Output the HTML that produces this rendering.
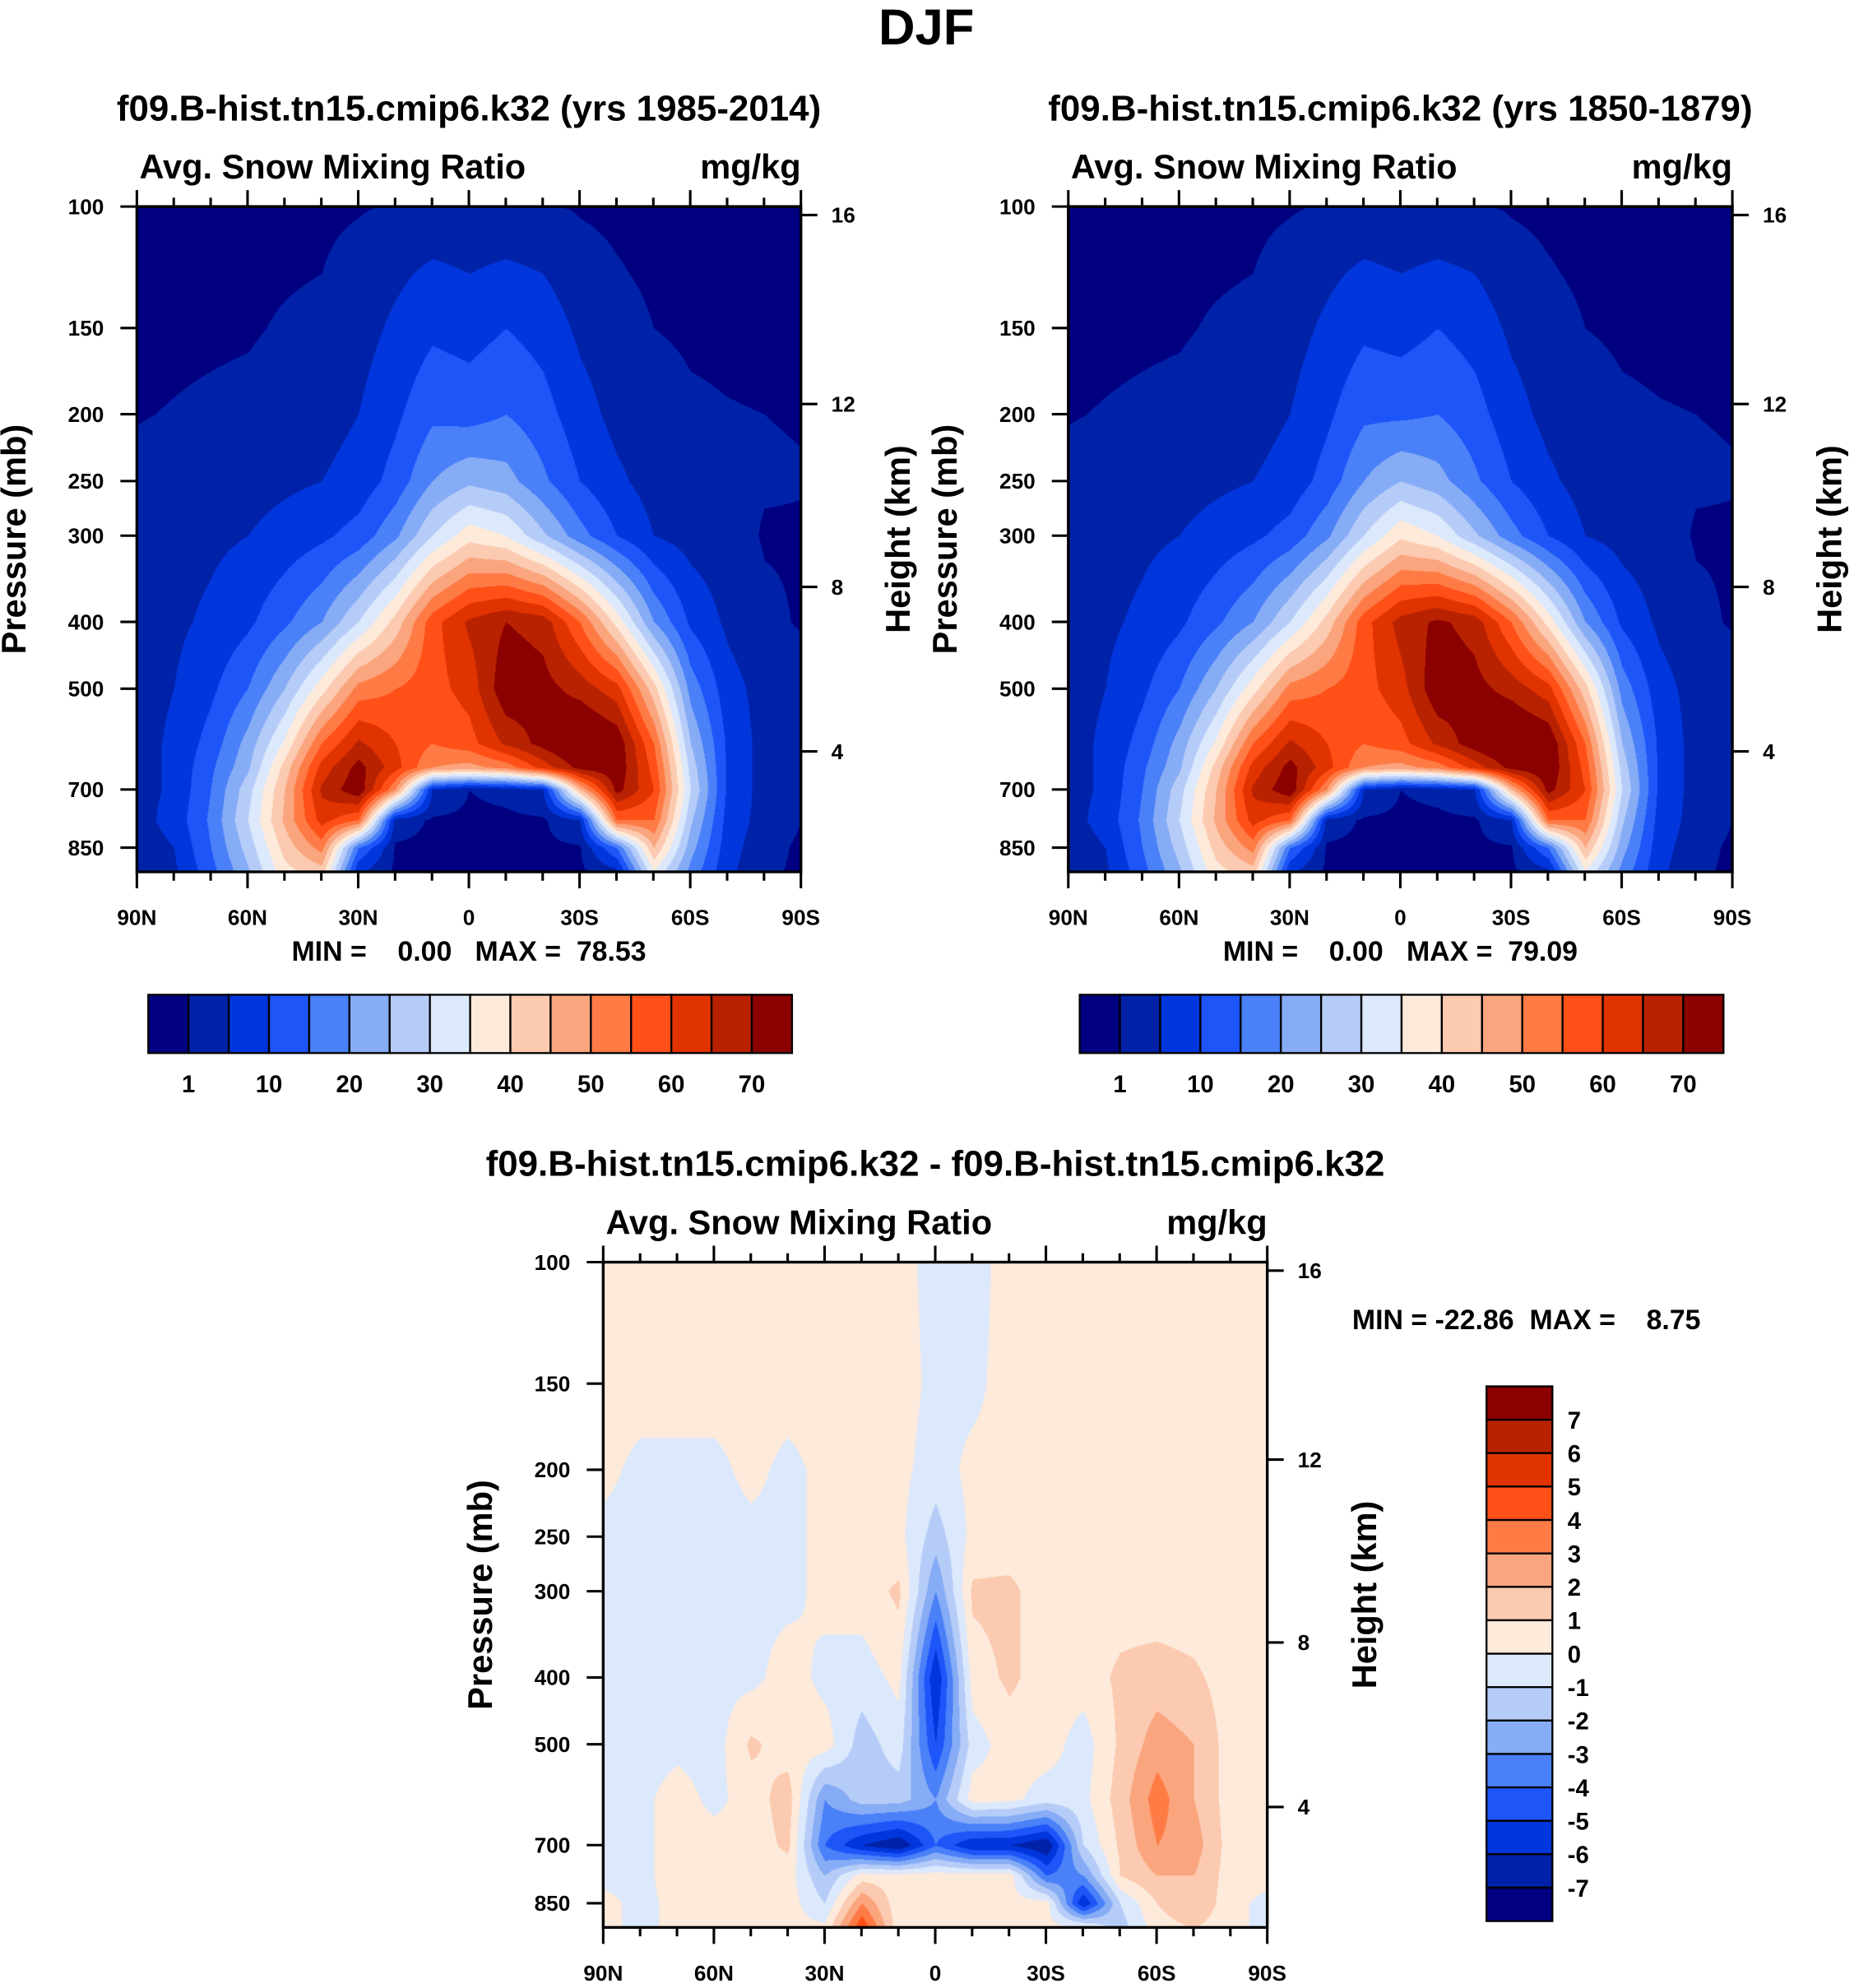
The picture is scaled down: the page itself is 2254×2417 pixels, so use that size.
<!DOCTYPE html>
<html><head><meta charset="utf-8">
<style>
html,body{margin:0;padding:0;background:#fff;}
#wrap{position:absolute;left:0;top:0;width:1463px;height:1569px;transform:scale(1.54067);transform-origin:0 0;}
canvas{position:absolute;}
svg{position:absolute;left:0;top:0;}
text{font-family:"Liberation Sans",Arial,sans-serif;font-weight:bold;fill:#000;white-space:pre;}
</style></head>
<body>
<div id="wrap">
<canvas id="c1" style="left:108px;top:163px;width:524px;height:525px"></canvas>
<canvas id="c2" style="left:843px;top:163px;width:524px;height:525px"></canvas>
<canvas id="c3" style="left:476px;top:996px;width:524px;height:525px"></canvas>
<svg id="ov" width="1463" height="1569"></svg>
</div>
<script>
// ---- data ----
const lats = [90,80,70,60,50,40,30,20,10,0,-10,-20,-30,-40,-50,-60,-70,-80,-90];
const pLevels = [100,125,150,200,250,300,400,500,600,650,700,775,850,925];
const field1 = [
[0.3,0.3,0.3,0.3,0.4,0.5,0.8,1.2,1.5,1.5,1.5,1.2,0.8,0.5,0.3,0.3,0.3,0.3,0.3],
[0.4,0.4,0.5,0.6,0.8,1,2,4,6,5,6,5,2,1.2,0.6,0.4,0.4,0.4,0.4],
[0.5,0.6,0.7,0.8,1.2,1.5,3,6,9,8,10,8,4,2,1,0.7,0.6,0.5,0.5],
[0.9,1.1,1.3,1.5,2,3,5,9,14,13,15,12,7,3.5,2,1.3,1.1,1,0.9],
[1.5,2,2.5,3,4,5,7,12,20,24,22,16,10,6,3,2,1.5,1.2,1.1],
[2,3,4,5,7,9,12,19,30,38,35,26,17,10,5,3,2,0.8,0.8],
[2.5,4,6,9,14,20,30,42,58,66,70,68,55,38,20,9,4,1.5,0.8],
[3,5,9,15,25,38,52,55,58,62,74,72,68,62,42,18,7,3,2],
[3,6,12,22,36,55,66,60,55,58,66,72,78,74,55,25,9,3,2],
[3,6,14,24,42,62,72,62,50,48,52,62,72,74,58,28,9,3,2],
[3,6,15,28,45,66,74,50,5,1,2,5,45,72,60,30,9,3,2],
[3,7,16,30,46,62,55,3,0.5,0.3,0.3,0.5,5,55,55,26,8,3,1],
[2,5,15,27,42,52,15,0.5,0.3,0.3,0.3,0.3,0.6,15,45,22,7,2,0.5],
[2,4,13,24,38,42,5,0.3,0.3,0.3,0.3,0.3,0.3,3,34,18,6,1.5,0.5]];
const field2 = [
[0.3,0.3,0.3,0.3,0.4,0.5,0.8,1.2,1.5,1.5,1.5,1.2,0.8,0.5,0.3,0.3,0.3,0.3,0.3],
[0.4,0.4,0.5,0.6,0.8,1,2,4,6,5,6,5,2,1.2,0.6,0.4,0.4,0.4,0.4],
[0.5,0.6,0.7,0.8,1.2,1.5,3,6,9,8,10,8,4,2,1,0.7,0.6,0.5,0.5],
[0.9,1.1,1.3,1.5,2,3,5,9,14,14,15,12,7,3.5,2,1.3,1.1,1,0.9],
[1.5,2,2.5,3,4,5,7,12,20,25,22,16,10,6,3,2,1.5,1.2,1.1],
[2,3,4,5,7,9,12,19,30,39,35,26,17,10,5,3,2,0.8,0.8],
[2.5,4,6,9,14,20,30,42,58,67,71,68,55,38,20,9,4,1.5,0.8],
[3,5,9,15,25,38,52,55,58,63,74,72,68,62,42,18,7,3,2],
[3,6,12,22,36,55,66,60,55,58,66,73,78,75,55,25,9,3,2],
[3,6,14,24,42,62,72,62,50,48,52,62,72,75,58,28,9,3,2],
[3,6,15,28,45,66,74,50,5,1,2,5,45,72,60,30,9,3,2],
[3,7,16,30,46,62,55,3,0.5,0.3,0.3,0.5,5,55,55,26,8,3,1],
[2,5,15,27,42,52,15,0.5,0.3,0.3,0.3,0.3,0.6,15,45,22,7,2,0.5],
[2,4,13,24,38,42,5,0.3,0.3,0.3,0.3,0.3,0.3,3,34,18,6,1.5,0.5]];
const pLevelsDiff = [100,150,200,250,300,400,500,600,700,775,850,925];
const fieldDiff = [
[0.5,0.5,0.5,0.5,0.5,0.5,0.5,0.5,0.5,-0.5,-0.5,0.5,0.5,0.5,0.5,0.5,0.5,0.5,0.5],
[0.5,0.5,0.5,0.5,0.5,0.5,0.5,0.5,0.5,-0.3,-0.3,0.5,0.5,0.5,0.5,0.5,0.5,0.5,0.5],
[0.3,-0.3,-0.3,-0.3,0.3,-0.3,0.3,0.3,0.3,-0.5,0.3,0.3,0.3,0.3,0.3,0.3,0.3,0.3,0.3],
[-0.3,-0.5,-0.5,-0.5,-0.3,-0.3,0.3,0.3,0.3,-1.5,0.3,0.3,0.3,0.5,0.3,0.3,0.3,0.3,0.3],
[-0.3,-0.5,-0.5,-0.5,-0.3,-0.3,0.3,0.5,1.2,-3,1.2,1.3,0.3,0.5,0.5,0.3,0.3,0.3,0.3],
[-0.3,-0.5,-0.5,-0.3,-0.3,0.5,-0.3,-0.5,0.3,-6,0.5,1.2,0.5,0.5,1.2,1.5,1.2,0.5,0.3],
[-0.3,-0.5,-0.3,-0.5,1.2,0.5,0.5,-1.5,-0.5,-5,-0.5,0.5,0.5,-0.5,1.2,2.5,2,0.5,0.3],
[-0.3,-0.3,0.5,-0.3,0.5,1.5,-3,-1.5,-1.5,-3,0.5,0.3,-0.5,-0.3,1.5,3.5,2,0.5,0.3],
[-0.3,-0.3,0.5,0.5,0.5,1.2,-4,-6,-7,-4,-6,-6,-7,-1,1.2,3,2.5,0.5,0.3],
[-0.3,-0.3,0.5,0.5,0.5,0.5,-2,0.5,0.5,0.5,0.5,0.5,-4,-3,1,2,2,0.5,0.3],
[0.3,-0.3,0.3,0.5,0.3,0.5,-1,3,0.3,0.3,0.3,0.3,0.5,-6,-1,1,2,0.3,-0.3],
[0.3,-0.3,0.3,0.3,0.3,0.3,0.3,5,0.3,0.3,0.3,0.3,0.3,0.5,-1.5,0.5,1,0.3,-0.3]];
const levelsAbs = [1,5,10,15,20,25,30,35,40,45,50,55,60,65,70];
const levelsDiff = [-7,-6,-5,-4,-3,-2,-1,0,1,2,3,4,5,6,7];
const cbLabelsAbs = ["1","10","20","30","40","50","60","70"];
const cbLabelsDiff = ["7","6","5","4","3","2","1","0","-1","-2","-3","-4","-5","-6","-7"];
const colors = ["#000080","#0022a8","#0036dc","#1d55f8","#4a80f8","#86acf5","#b6ccf8","#dce8fb","#fdeadb","#fccab0","#faa57e","#ff7b46","#ff5018","#e03300","#b82200","#8b0000"];
const pTicks = [100,150,200,250,300,400,500,700,850];
const zTicks = [4,8,12,16];
const latTicks = [90,60,30,0,-30,-60,-90];
const latLabels = ["90N","60N","30N","0","30S","60S","90S"];

// ---- scales ----
const K = 236.4, PW = 524, PH = 525;
const yOfP = p => K*Math.log(p/100);
const pOfY = y => 100*Math.exp(y/K);
const xOfLat = l => (90-l)/180*PW;
function pOfZ(z){ const m=z*1000; return m<=11000 ? 1013.25*Math.pow(1-2.25577e-5*m,5.25588) : 226.32*Math.exp(-(m-11000)/6341.6); }

function hex(c){return [parseInt(c.substr(1,2),16),parseInt(c.substr(3,2),16),parseInt(c.substr(5,2),16)];}
const rgb = colors.map(hex);

function drawField(id, field, plev, levels){
  const cv=document.getElementById(id), S=1.54067;
  const W=Math.round(PW*S), H=Math.round(PH*S);
  cv.width=W; cv.height=H;
  const ctx=cv.getContext('2d'), img=ctx.createImageData(W,H), d=img.data;
  const lp=plev.map(Math.log), nc=lats.length;
  for(let j=0;j<H;j++){
    const lnp=Math.log(pOfY(j/S));
    let r=0; while(r<lp.length-2 && lnp>lp[r+1]) r++;
    let fy=(lnp-lp[r])/(lp[r+1]-lp[r]); fy=Math.max(0,Math.min(1,fy));
    for(let i=0;i<W;i++){
      const fx=(i/S)/PW*(nc-1); let c=Math.min(nc-2,Math.floor(fx)); const tx=fx-c;
      const v=(field[r][c]*(1-tx)+field[r][c+1]*tx)*(1-fy)+(field[r+1][c]*(1-tx)+field[r+1][c+1]*tx)*fy;
      let k=0; while(k<levels.length && v>=levels[k]) k++;
      const col=rgb[k], o=(j*W+i)*4;
      d[o]=col[0];d[o+1]=col[1];d[o+2]=col[2];d[o+3]=255;
    }
  }
  ctx.putImageData(img,0,0);
}
drawField('c1',field1,pLevels,levelsAbs);
drawField('c2',field2,pLevels,levelsAbs);
drawField('c3',fieldDiff,pLevelsDiff,levelsDiff);

// ---- overlay ----
const NS="http://www.w3.org/2000/svg", ov=document.getElementById('ov');
function el(tag,attrs,parent){const e=document.createElementNS(NS,tag);for(const k in attrs)e.setAttribute(k,attrs[k]);(parent||ov).appendChild(e);return e;}
function txt(x,y,s,size,anchor,name,extra){const t=el('text',Object.assign({x:x,y:y,'font-size':size,'text-anchor':anchor||'middle'},extra||{}));t.textContent=s;


return t;}

txt(731,35,"DJF",40,'middle','main-title');

function panel(ox,oy,title,minmax,pre){
  const g=el('g',{});
  
  
  txt(ox+PW/2,oy-68,title,28.5,'middle',pre+'-title');
  txt(ox+2,oy-22,"Avg. Snow Mixing Ratio",27,'start',pre+'-subtitle');
  txt(ox+PW,oy-22,"mg/kg",27,'end',pre+'-units');
  const fr=el('rect',{x:ox,y:oy,width:PW,height:PH,fill:'none',stroke:'#000','stroke-width':2.2},g);
  
  
  pTicks.forEach(p=>{const y=oy+yOfP(p);
    el('line',{x1:ox-13,y1:y,x2:ox,y2:y,stroke:'#000','stroke-width':2},g);
    txt(ox-26,y+6,String(p),17,'end',pre+'-p-label');});
  zTicks.forEach(z=>{const y=oy+yOfP(pOfZ(z));
    el('line',{x1:ox+PW,y1:y,x2:ox+PW+13,y2:y,stroke:'#000','stroke-width':2},g);
    txt(ox+PW+24,y+6,String(z),17,'start',pre+'-z-label');});
  for(let l=90;l>=-90;l-=10){const x=ox+xOfLat(l), major=(l%30===0), len=major?13:7;
    el('line',{x1:x,y1:oy+PH,x2:x,y2:oy+PH+len,stroke:'#000','stroke-width':2},g);
    el('line',{x1:x,y1:oy,x2:x,y2:oy-len,stroke:'#000','stroke-width':2},g);}
  latTicks.forEach((l,i)=>txt(ox+xOfLat(l),oy+PH+42,latLabels[i],17,'middle',pre+'-lat-label'));
  txt(ox-88,oy+PH/2,"Pressure (mb)",27,'middle',pre+'-y-axis-title',{transform:`rotate(-90 ${ox-88} ${oy+PH/2})`});
  txt(ox+PW+86,oy+PH/2,"Height (km)",27,'middle',pre+'-right-axis-title',{transform:`rotate(-90 ${ox+PW+86} ${oy+PH/2})`});
  if(minmax) txt(ox+PW/2,oy+PH+70,minmax,22,'middle',pre+'-minmax');
}
panel(108,163,"f09.B-hist.tn15.cmip6.k32 (yrs 1985-2014)","MIN =    0.00   MAX =  78.53",'panel1');
panel(843,163,"f09.B-hist.tn15.cmip6.k32 (yrs 1850-1879)","MIN =    0.00   MAX =  79.09",'panel2');
panel(476,996,"f09.B-hist.tn15.cmip6.k32 - f09.B-hist.tn15.cmip6.k32",null,'diff');
txt(1067,1049,"MIN = -22.86  MAX =    8.75",22,'start','diff-minmax');

function hbar(x0,y0,w,h,pre){
  const bw=w/colors.length;
  colors.forEach((c,i)=>{const r=el('rect',{x:x0+i*bw,y:y0,width:bw,height:h,fill:c,stroke:'#000','stroke-width':1.5});
    
    });
  cbLabelsAbs.forEach((s,i)=>txt(x0+(1+2*i)*bw,y0+h+31,s,19,'middle',pre+'-colorbar-label'));
}
hbar(117,785,508,46,'panel1');
hbar(852,785,508,46,'panel2');
(function(){
  const x0=1173,y0=1094,w=52,h=422,bh=h/colors.length;
  for(let i=0;i<colors.length;i++){const r=el('rect',{x:x0,y:y0+i*bh,width:w,height:bh,fill:colors[colors.length-1-i],stroke:'#000','stroke-width':1.5});
    
    }
  cbLabelsDiff.forEach((s,i)=>txt(x0+w+12,y0+(i+1)*bh+7,s,19,'start','diff-colorbar-label'));
})();
</script>
</body></html>
